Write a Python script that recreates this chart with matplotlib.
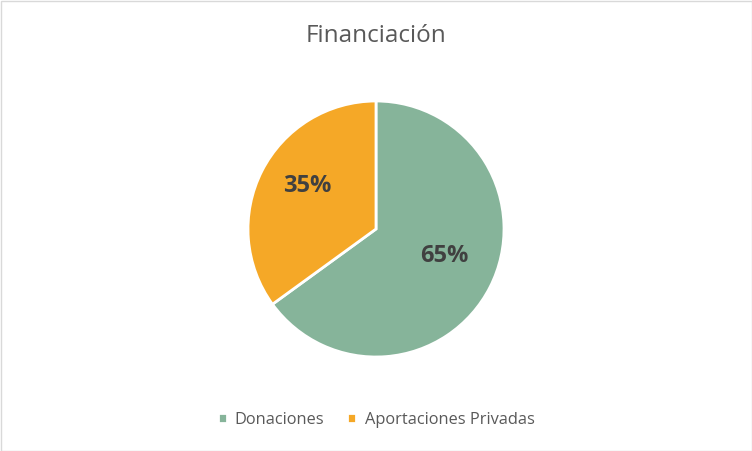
import matplotlib.pyplot as plt
from matplotlib.patches import Rectangle

labels = ['Donaciones', 'Aportaciones Privadas']
values = [65, 35]
colors = ['#86B49A', '#F5A827']

W, H = 752, 451
fig = plt.figure(figsize=(W / 100, H / 100), dpi=100)
plt.rcParams['font.family'] = ['Open Sans', 'DejaVu Sans']

# pie centred at (376, 229) px, radius 128 px
cx, cy, r = 376, 229, 128
ax = fig.add_axes([(cx - r) / W, (H - cy - r) / H, 2 * r / W, 2 * r / H])
wedges, texts, autotexts = ax.pie(
    values, colors=colors, startangle=90, counterclock=False,
    autopct='%1.0f%%', pctdistance=0.6, radius=1,
    wedgeprops=dict(edgecolor='white', linewidth=2),
    textprops=dict(fontsize=17, fontweight='bold', color='#404040'))
# labels sit a little higher than the default spot
for t in autotexts:
    x, y = t.get_position()
    t.set_position((x, y + 0.065))
ax.set_xlim(-1, 1)
ax.set_ylim(-1, 1)
ax.set_aspect('auto')
ax.axis('off')

fig.text(0.5, 1 - 36 / H, 'Financiación', ha='center', va='center',
         fontsize=17.5, color='#595959')

leg = fig.legend(wedges, labels, loc='center', bbox_to_anchor=(0.5, 1 - 420 / H),
                 ncol=2, frameon=False, fontsize=11.8, handlelength=0.55,
                 handleheight=0.55, handletextpad=0.5, columnspacing=1.4)
for t in leg.get_texts():
    t.set_color('#595959')

fig.patches.append(Rectangle((0.5 / W, 0.5 / H), 1 - 1 / W, 1 - 1 / H,
                             transform=fig.transFigure, fill=False,
                             edgecolor='#D9D9D9', linewidth=1))

fig.savefig('out.png', dpi=100)
